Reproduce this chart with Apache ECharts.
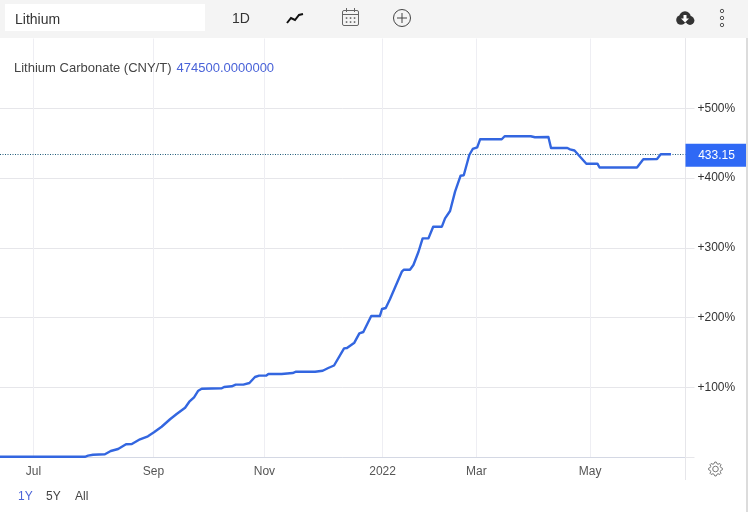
<!DOCTYPE html>
<html><head><meta charset="utf-8">
<style>html,body{margin:0;padding:0;background:#fff}#c{width:748px;height:512px}</style>
<script src="https://cdn.jsdelivr.net/npm/echarts@6/dist/echarts.min.js"></script>
</head><body><div id="c"></div>
<script>
// x = trading session index, y = % change
const sessions = [0,32.2,33.4,35.3,39.8,42.0,44.8,47.8,50.0,53.1,56.1,58.4,61.3,64.5,67.0,70.2,71.8,73.6,75.2,76.5,84.1,85.0,87.9,89.4,92.3,94.6,96.7,98.3,100.9,101.8,106.8,107.5,111.0,112.3,119.5,122.4,124.5,126.7,130.5,131.6,134.4,136.3,137.8,140.8,144.1,144.9,146.3,147.9,152.4,153.2,155.5,156.8,158.7,160.3,162.5,164.3,167.6,168.8,170.7,172.6,174.7,175.9,178.0,179.3,181.0,182.1,190.3,191.4,201.3,202.9,208.0,209.0,215.2,216.2,217.9,222.4,226.6,227.4,241.6,244.0,249.2,250.6,254.5];
const changes = [0.3,0.3,1.9,3.3,3.9,8.6,11.5,18.2,18.6,25.4,29.7,35.4,43.4,54.1,61.6,70.7,79.3,85.6,95.1,97.9,98.5,100.4,101.4,103.7,103.7,106.1,114.7,116.6,116.6,119.0,119.0,120.0,120.4,122.3,122.3,123.7,127.6,131.2,155.8,156.3,163.9,177.3,179.2,202.2,202.2,212.2,213.6,226.1,265.7,268.5,268.5,275.3,293.9,313.5,313.5,330.2,330.2,342.2,352.7,380.4,403.3,403.9,433.0,441.6,444.0,455.5,455.5,459.8,459.8,458.4,458.8,443.0,443.0,441.1,439.4,420.5,420.5,415.1,415.1,426.8,427.2,434.0,434.1];
const tickPositions = [12.7,58.2,100.3,145.1,180.7,223.8];
const tickLabels = ['Jul','Sep','Nov','2022','Mar','May'];
const yTicks = [0,100,200,300,400,500];
const yLabelTicks = [100,200,300,400,500];
const lastValue = 434;
const lastLabel = '433.15';
const titleName = 'Lithium Carbonate (CNY/T)';
const titleValue = '474500.0000000';
const rangeButtons = ['1Y','5Y','All'];

const F = '"Liberation Sans", Arial, sans-serif';
const BLUE = '#3366e0', ACC = '#4a63d8', G = '#e6e6ea', GV = '#eeeef3';
const labelAt = {};
tickPositions.forEach((p,i)=>labelAt[p]=tickLabels[i]);

function txt(x,y,t,size,fill,align){return {type:'text',z:100,style:{x,y,text:t,font:size+'px '+F,fill,textAlign:align||'left',textVerticalAlign:'middle'}};}
function rect(x,y,w,h,fill){return {type:'rect',z:99,shape:{x,y,width:w,height:h},style:{fill}};}
function gearPoints(cx,cy){const p=[];for(let i=0;i<32;i++){const r=(i%4<2)?7:5.4;const a=(i+0.5-1)*Math.PI/16;p.push([cx+r*Math.cos(a),cy+r*Math.sin(a)]);}return p;}

const chart = echarts.init(document.getElementById('c'),null,{renderer:'canvas'});
chart.setOption({
  animation:false,
  backgroundColor:'#fff',
  title:{left:14,top:59,padding:0,text:'{a|'+titleName+'} {b|'+titleValue+'}',
    textStyle:{fontWeight:'normal',rich:{a:{fontSize:13,fontWeight:'normal',fontFamily:F,color:'#444'},b:{fontSize:13,fontWeight:'normal',fontFamily:F,color:ACC}}}},
  grid:{left:0,right:62.5,top:38.5,bottom:55},
  xAxis:{type:'value',min:0,max:260,
    axisLine:{show:true,onZero:false,lineStyle:{color:'#d4d8e4',width:1}},
    axisTick:{show:false,customValues:tickPositions},
    axisLabel:{customValues:tickPositions,margin:9,fontSize:12,fontFamily:F,color:'#555',hideOverlap:false,
      showMinLabel:true,showMaxLabel:true,formatter:v=>labelAt[v]||''},
    splitLine:{show:true,lineStyle:{color:GV,width:1}}},
  yAxis:{type:'value',position:'right',min:0,max:600,
    axisLine:{show:true,onZero:false,lineStyle:{color:G,width:1}},
    axisTick:{show:true,length:9,customValues:yTicks,lineStyle:{color:G,width:1}},
    axisLabel:{customValues:yLabelTicks,margin:12,fontSize:12,fontFamily:F,color:'#333',
      formatter:v=>'+'+v+'%'},
    splitLine:{show:true,lineStyle:{color:G,width:1}}},
  series:[{type:'line',symbol:'none',smooth:false,z:5,
    data:sessions.map((s,i)=>[s,changes[i]]),
    lineStyle:{color:BLUE,width:2.4,join:'round'},
    markLine:{silent:true,symbol:'none',animation:false,
      lineStyle:{color:'#1f5a78',width:1,type:[1,1.5]},
      data:[{yAxis:lastValue,
        label:{show:true,position:'end',distance:0,formatter:lastLabel,backgroundColor:'#2f69f5',color:'#fff',
          fontSize:12,fontFamily:F,width:62,height:23,lineHeight:23,align:'center',offset:[31,1]}}]}}],
  graphic:[
    rect(0,0,748,38,'#f4f4f4'),
    rect(5,4,200,27,'#fff'),
    rect(746,38,2,474,'#dcdcdc'),
    {type:'line',z:98,shape:{x1:685.5,y1:457,x2:685.5,y2:480},style:{stroke:G,lineWidth:1}},
    txt(15,20,'Lithium',14,'#333'),
    txt(241,19,'1D',14,'#333','center'),
    {type:'polyline',z:100,shape:{points:[[287,23],[291,18],[295,20],[299,15],[303,14]]},style:{stroke:'#111',fill:null,lineWidth:2}},
    {type:'rect',z:100,shape:{x:342.5,y:10.5,width:16,height:15,r:1.5},style:{stroke:'#666',fill:null,lineWidth:1}},
    {type:'line',z:100,shape:{x1:343,y1:14.5,x2:358,y2:14.5},style:{stroke:'#666',lineWidth:1}},
    {type:'line',z:100,shape:{x1:346.5,y1:8,x2:346.5,y2:12},style:{stroke:'#666',lineWidth:1}},
    {type:'line',z:100,shape:{x1:354.5,y1:8,x2:354.5,y2:12},style:{stroke:'#666',lineWidth:1}},
    ...[[346.5,18],[350.5,18],[354.5,18],[346.5,22],[350.5,22],[354.5,22]].map(p=>rect(p[0]-.7,p[1]-.7,1.5,1.5,'#555')).map(o=>({...o,z:100})),
    {type:'circle',z:100,shape:{cx:402,cy:18,r:8.5},style:{stroke:'#444',fill:null,lineWidth:1}},
    {type:'line',z:100,shape:{x1:397,y1:18,x2:407,y2:18},style:{stroke:'#444',lineWidth:1}},
    {type:'line',z:100,shape:{x1:402,y1:13,x2:402,y2:23},style:{stroke:'#444',lineWidth:1}},
    {type:'circle',z:100,shape:{cx:681,cy:20,r:4.8},style:{fill:'#333'}},
    {type:'circle',z:100,shape:{cx:685,cy:17,r:5.8},style:{fill:'#333'}},
    {type:'circle',z:100,shape:{cx:690,cy:20.5,r:4.4},style:{fill:'#333'}},
    {type:'polygon',z:101,shape:{points:[[683.5,15],[686.5,15],[686.5,18.5],[689,18.5],[685,22.5],[681,18.5],[683.5,18.5]]},style:{fill:'#fff'}},
    ...[11,18,25].map(y=>({type:'circle',z:100,shape:{cx:722,cy:y,r:1.7},style:{stroke:'#555',fill:null,lineWidth:1}})),
    {type:'polygon',z:100,shape:{points:gearPoints(715.5,469)},style:{stroke:'#777',fill:null,lineWidth:1}},
    {type:'circle',z:100,shape:{cx:715.5,cy:469,r:2.8},style:{stroke:'#777',fill:null,lineWidth:1}},
    txt(18,497,rangeButtons[0],12,ACC),
    txt(46,497,rangeButtons[1],12,'#444'),
    txt(75,497,rangeButtons[2],12,'#444')
  ]
});
</script></body></html>
